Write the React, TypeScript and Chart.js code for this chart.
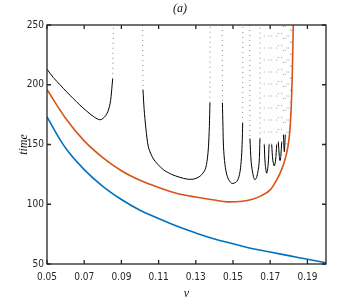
import React, { useEffect, useRef } from 'react';
import { Chart, registerables } from 'chart.js';

Chart.register(...registerables);

// ---- data ----
const blueV = [0.05, 0.06, 0.07, 0.08, 0.09, 0.10, 0.11, 0.12, 0.13, 0.14, 0.15, 0.16, 0.17, 0.18, 0.19, 0.20];
const blueT = [173, 147, 129, 115, 104, 95, 88, 81.5, 76, 71, 67, 63, 60, 57, 54, 51];

const orangeV = [0.05, 0.06, 0.07, 0.08, 0.09, 0.10, 0.11, 0.12, 0.13, 0.14, 0.147, 0.155, 0.16, 0.165, 0.17, 0.1726, 0.175, 0.1775, 0.1795, 0.1806, 0.1814, 0.1819, 0.1824];
const orangeT = [196, 172, 153, 139, 128, 120, 114, 109, 106, 103.5, 102, 102.5, 104, 107, 112, 118, 125, 135, 148, 162, 185, 210, 250];

// solid black branches (null separates branches)
const blackV = [
  0.05, 0.0534, 0.057, 0.0606, 0.0641, 0.0677, 0.0713, 0.0749, 0.0776, 0.0794, 0.0821, 0.0839, 0.0848, 0.0853, null,
  0.1016, 0.1022, 0.1032, 0.1045, 0.1065, 0.1081, 0.1125, 0.117, 0.1215, 0.1255, 0.1287, 0.1323, 0.135, 0.1362, 0.1368, 0.1373, 0.1376, null,
  0.1443, 0.1446, 0.1449, 0.1457, 0.147, 0.1493, 0.152, 0.1535, 0.1544, 0.1549, 0.1552, null,
  0.1591, 0.1598, 0.161, 0.1618, 0.1628, 0.164, 0.1645, null,
  0.1668, 0.1673, 0.1681, 0.1689, 0.1694, null,
  0.1708, 0.1714, 0.1722, 0.1729, 0.1735, null,
  0.1744, 0.1749, 0.1753, 0.1757, 0.1762, null,
  0.1771, 0.1776, 0.1781,
];
const blackT = [
  213, 206, 200, 194, 188.5, 183, 178, 173.5, 171, 171, 175.5, 184, 196, 205, null,
  196, 180, 163, 148, 140, 136, 129, 125, 122.5, 121, 121, 123.5, 129, 138, 148, 165, 185, null,
  185, 165, 148, 133, 123, 117.5, 119, 125, 136, 150, 168, null,
  155, 135, 123, 120.5, 123, 134, 155, null,
  150, 134, 126, 133, 150, null,
  150, 137, 132, 137, 150, null,
  152, 140, 136.5, 140, 152, null,
  158, 144, 158,
];

// sparse dotted continuations of the main spikes
const spikeV = [0.0853, 0.0857, null, 0.1014, 0.1016, null, 0.1376, 0.1377, null, 0.1442, 0.1443, null, 0.1552, 0.1553, null, 0.159, 0.1591, null, 0.1645, 0.1646];
const spikeT = [205, 250, null, 250, 196, null, 185, 250, null, 250, 185, null, 168, 250, null, 250, 155, null, 155, 250];

// very sparse dots of the narrow spikes near the right edge
const fanV = [0.1668, 0.1668, null, 0.1694, 0.1694, null, 0.1708, 0.1708, null, 0.1735, 0.1735, null, 0.1744, 0.1744, null, 0.1762, 0.1762, null, 0.1771, 0.1771, null, 0.1781, 0.1781, null, 0.179, 0.179, null, 0.18, 0.18, null, 0.1808, 0.1808, null, 0.1815, 0.1815];
const fanT = [150, 250, null, 150, 250, null, 150, 250, null, 150, 250, null, 152, 250, null, 152, 250, null, 158, 250, null, 158, 250, null, 150, 250, null, 160, 250, null, 175, 250, null, 195, 250];

const xTicks = [0.05, 0.07, 0.09, 0.11, 0.13, 0.15, 0.17, 0.19];
const yTicks = [50, 100, 150, 200, 250];

const pts = (xs: (number | null)[], ys: (number | null)[]) =>
  xs.map((x, i) => (x === null || ys[i] === null ? { x: NaN, y: null } : { x, y: ys[i] }));

const tickFont = { family: "'Liberation Sans Narrow', 'DejaVu Sans Condensed', 'Liberation Sans', sans-serif", size: 10 };
const labelFont = { family: "'Liberation Serif', 'DejaVu Serif', serif", size: 12, style: 'italic' as const, weight: 'normal' as const };

const framePlugin = {
  id: 'frame',
  afterDatasetsDraw(chart: any) {
    const { ctx, chartArea: a, scales } = chart;
    ctx.save();
    ctx.strokeStyle = '#262626';
    ctx.lineWidth = 1.3;
    ctx.strokeRect(a.left, a.top, a.right - a.left, a.bottom - a.top);
    const L = 4;
    ctx.beginPath();
    scales.x.ticks.forEach((t: any) => {
      const p = scales.x.getPixelForValue(t.value);
      ctx.moveTo(p, a.bottom); ctx.lineTo(p, a.bottom - L);
      ctx.moveTo(p, a.top); ctx.lineTo(p, a.top + L);
    });
    scales.y.ticks.forEach((t: any) => {
      const p = scales.y.getPixelForValue(t.value);
      ctx.moveTo(a.left, p); ctx.lineTo(a.left + L, p);
      ctx.moveTo(a.right, p); ctx.lineTo(a.right - L, p);
    });
    ctx.stroke();
    ctx.restore();
  },
};

export default function App() {
  const ref = useRef<HTMLCanvasElement>(null);
  useEffect(() => {
    if (!ref.current) return;
    const chart = new Chart(ref.current, {
      type: 'line',
      data: {
        datasets: [
          {
            data: pts(spikeV, spikeT) as any,
            borderColor: 'rgba(60,60,60,0.6)',
            borderWidth: 1,
            borderDash: [1, 4],
            pointRadius: 0,
            tension: 0,
            spanGaps: false,
          },
          {
            data: pts(fanV, fanT) as any,
            borderColor: 'rgba(80,80,80,0.55)',
            borderWidth: 1,
            borderDash: [1, 11],
            pointRadius: 0,
            tension: 0,
            spanGaps: false,
          },
          {
            data: pts(blackV, blackT) as any,
            borderColor: '#000000',
            borderWidth: 1,
            pointRadius: 0,
            tension: 0.3,
            spanGaps: false,
          },
          {
            data: pts(orangeV, orangeT) as any,
            borderColor: '#D95319',
            borderWidth: 1.6,
            pointRadius: 0,
            cubicInterpolationMode: 'monotone',
          },
          {
            data: pts(blueV, blueT) as any,
            borderColor: '#0072BD',
            borderWidth: 1.6,
            pointRadius: 0,
            tension: 0.4,
          },
        ],
      },
      options: {
        responsive: false,
        animation: false,
        layout: { padding: 0 },
        plugins: {
          legend: { display: false },
          tooltip: { enabled: false },
          title: {
            display: true,
            text: '(a)',
            color: '#111',
            font: labelFont,
            padding: { top: 2, bottom: 8.6 },
          },
        },
        scales: {
          x: {
            type: 'linear',
            min: 0.05,
            max: 0.2,
            afterBuildTicks: (s: any) => { s.ticks = xTicks.map((value) => ({ value })); },
            afterFit: (s: any) => { s.height = 41; },
            grid: { display: false, drawTicks: false },
            border: { display: false },
            ticks: {
              autoSkip: false,
              maxRotation: 0,
              padding: 7,
              color: '#262626',
              font: tickFont,
              callback: (v: any) => Number(v).toFixed(2),
            },
            title: { display: true, text: 'v', color: '#111', font: labelFont, padding: { top: 0, bottom: 4 } },
          },
          y: {
            type: 'linear',
            min: 50,
            max: 250,
            afterBuildTicks: (s: any) => { s.ticks = yTicks.map((value) => ({ value })); },
            afterFit: (s: any) => { s.width = 47; },
            grid: { display: false, drawTicks: false },
            border: { display: false },
            ticks: { padding: 3, color: '#262626', font: tickFont },
            title: { display: true, text: 'time', color: '#111', font: labelFont, padding: { top: 17, bottom: 0 } },
          },
          y2: {
            type: 'linear',
            position: 'right',
            min: 50,
            max: 250,
            afterFit: (s: any) => { s.width = 34; },
            grid: { display: false, drawTicks: false },
            border: { display: false },
            ticks: { display: false },
          },
        },
      },
      plugins: [framePlugin],
    });
    return () => chart.destroy();
  }, []);
  return (
    <div style={{ position: 'fixed', left: 0, top: 0, width: 360, height: 305, background: '#fff' }}>
      <canvas ref={ref} width={360} height={305} style={{ display: 'block' }} />
    </div>
  );
}
